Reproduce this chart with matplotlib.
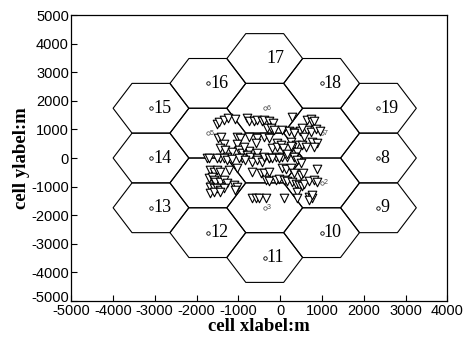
# hexagonal 19-cell layout with user positions
import numpy as np
import matplotlib
matplotlib.use('Agg')
import matplotlib.pyplot as plt
import matplotlib.transforms as mtransforms
from matplotlib.patches import Polygon

plt.rcParams['axes.unicode_minus'] = False

# cell centres (m)
cell_id = [1, 2, 3, 4, 5, 6, 7, 8, 9, 10, 11, 12, 13, 14, 15, 16, 17, 18, 19]
cell_x = [-370, 990, -370, -1730, -1730, -370, 990,
          2350, 2350, 990, -370, -1730, -3090, -3090, -3090, -1730, -370, 990, 2350]
cell_y = [0, -870, -1740, -870, 870, 1740, 870,
          0, -1740, -2610, -3480, -2610, -1740, 0, 1740, 2610, 3480, 2610, 1740]
hex_rx = 905   # half width of a cell
hex_ry = 870   # half height of a cell

# user positions (m)
user_x = [-1510, -1455, -1350, -1255, -1085, -790, -735, -630, -550, -445,
          -1485, -1405, -1030, -950, -750, -550,
          -1350, -1030,
          -1430, -1310, -1150, -990, -910, -750, -550, -790,
          -1750, -1430, -1270, -910, -710, -550,
          -390, -270, -165, 290, 650, 730, 770, 810,
          650, 730, 850, 950,
          -310, -230, -150, 50, 210, 330, 475, 570,
          -390, -270, -70, 250, 370, 530,
          -190, -85, 10, 75, 290, 410,
          770, 890, 810,
          -270, -110, 50, 170, 330,
          530, 330, 610, -870, -590, 170, 250,
          -1710, -1510, -1350, -1270, -1150, -990, -830, -670, -550, -430,
          -1670, -1590, -1510, -1430, -1230, -1030, -670, -470,
          -1710, -1630, -1590, -1550, -1430, -1350, -1270, -1110, -1030, -1085,
          -1670, -1590, -1510, -1430, -1350, -1670, -1590, -1430,
          -670, -590, -510,
          -390, -270, -190, -30, 330, 410, 490,
          50, 130, 250, 890,
          -390, -270, 330, 490, 555,
          -350, -270, -110, -30, 90, 170, 290, 370, 450, 530, 570,
          690, 810, 890,
          410, -350, 90, 690, 770, 690, 770, 400]
user_y = [1180, 1245, 1330, 1385, 1365, 1410, 1295, 1295, 1330, 1295,
          685, 745, 745, 685, 745, 685,
          475, 475,
          360, 280, 220, 280, 160, 245, 160, 105,
          10, 10, 45, 10, 45, 10,
          1330, 1295, 1210, 1445, 1330, 1365, 1245, 1295,
          980, 920, 1015, 945,
          1035, 1060, 980, 980, 945, 920, 945, 745,
          745, 685, 510, 570, 455, 455,
          360, 395, 455, 335, 395, 220,
          570, 510, 395,
          10, 45, 45, 45, 45,
          1035, 860, 395, 400, 510, 140, 430,
          10, -15, 10, -70, -35, -15, -70, -130, -70, -130,
          -420, -480, -420, -480, -420, -365, -480, -540,
          -715, -655, -770, -830, -830, -770, -890, -945, -1005, -1120,
          -1005, -1065, -1065, -1120, -1065, -1240, -1205, -1180,
          -1390, -1415, -1415,
          45, -15, 10, 10, 45, -70, -190,
          -340, -385, -365, -385,
          -540, -505, -540, -595, -540,
          -770, -805, -770, -735, -770, -805, -855, -925, -945, -970, -925,
          -805, -770, -830,
          -1205, -1415, -1390, -1355, -1415, -1475, -1295, -1400]

fig = plt.figure(figsize=(4.63, 3.38), dpi=100)
ax = fig.add_axes([0.1535, 0.1095, 0.813, 0.846])

# flat-topped hexagon corners, as fractions of the half sizes
hx = np.array([1, 0.5, -0.5, -1, -0.5, 0.5])
hy = np.array([0, 1, 1, 0, -1, -1])
for cid, cx, cy in zip(cell_id, cell_x, cell_y):
    verts = np.column_stack([cx + hex_rx*hx, cy + hex_ry*hy])
    ax.add_patch(Polygon(verts, closed=True, fill=False, ec='black', lw=0.8, zorder=1))
    if cid <= 7:
        ax.plot(cx, cy, 'o', ms=2.5, mfc='white', mec='#444444', mew=0.5, zorder=2)
        ax.annotate(str(cid), (cx, cy), xytext=(1.5, 0), textcoords='offset points',
                    ha='left', va='center', fontsize=5, color='#444444',
                    family='Liberation Sans', zorder=2)
    else:
        if cid != 17:
            ax.plot(cx, cy, 'o', ms=2.5, mfc='white', mec='black', mew=0.6, zorder=2)
        ax.annotate(str(cid), (cx, cy), xytext=(1.5, 0), textcoords='offset points',
                    ha='left', va='center', fontsize=13,
                    family='Liberation Serif', zorder=2)

ax.scatter(user_x, user_y, marker='v', s=38, facecolors='white',
           edgecolors='black', linewidths=0.8, zorder=3)

ax.set_xlim(-5000, 4000)
ax.set_ylim(-5000, 5000)
ax.set_xticks(np.arange(-5000, 4001, 1000))
ax.set_yticks(np.arange(-5000, 5001, 1000))
ax.tick_params(direction='in', length=4, width=0.8, labelsize=10.5)
ax.tick_params(axis='x', pad=2.5)
ax.tick_params(axis='y', pad=1.5)
for lab in ax.get_xticklabels() + ax.get_yticklabels():
    lab.set_family('Liberation Sans')
# lift the lowest y label a little so it does not sit on the x labels
low = ax.get_yticklabels()[0]
low.set_transform(low.get_transform() +
                  mtransforms.ScaledTranslation(0, 3/72, fig.dpi_scale_trans))
for sp in ax.spines.values():
    sp.set_linewidth(0.9)

ax.set_xlabel('cell xlabel:m', family='Liberation Serif', fontsize=13.5,
              fontweight='bold', labelpad=0)
ax.set_ylabel('cell ylabel:m', family='Liberation Serif', fontsize=13.5,
              fontweight='bold', labelpad=1)

fig.savefig('out.png', dpi=100)
